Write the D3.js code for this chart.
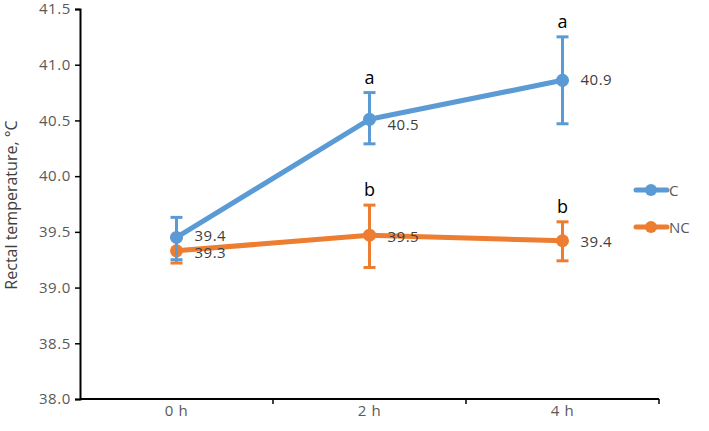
<!DOCTYPE html>
<html>
<head>
<meta charset="utf-8">
<script src="https://cdn.jsdelivr.net/npm/d3@7"></script>
<style>
  body { margin: 0; background: #fff; }
  text { font-family: "Open Sans", "Noto Sans", sans-serif; }
</style>
</head>
<body>
<svg id="chart" width="709" height="431"></svg>
<script>
"use strict";

// categories and series
const hours = ["0 h", "2 h", "4 h"];
const seriesNames = ["C", "NC"];
const cMean = [39.45, 40.51, 40.86];
const cLow = [39.25, 40.29, 40.47];
const cHigh = [39.63, 40.75, 41.25];
const ncMean = [39.33, 39.47, 39.42];
const ncLow = [39.22, 39.18, 39.24];
const ncHigh = [39.45, 39.74, 39.59];
const cLabels = ["39.4", "40.5", "40.9"];
const ncLabels = ["39.3", "39.5", "39.4"];
const cLetters = ["", "a", "a"];
const ncLetters = ["", "b", "b"];
const yTicks = [38.0, 38.5, 39.0, 39.5, 40.0, 40.5, 41.0, 41.5];

const colors = { C: "#5B9BD5", NC: "#ED7D31" };

const svg = d3.select("#chart");
const plotLeft = 80, plotRight = 659, plotTop = 9, plotBottom = 399;

const x = d3.scaleBand().domain(hours).range([plotLeft, plotRight]);
const y = d3.scaleLinear().domain([38, 41.5]).range([plotBottom, plotTop]);

// y axis
const yAxis = svg.append("g").attr("transform", `translate(${plotLeft},0)`)
  .call(d3.axisLeft(y).tickValues(yTicks).tickFormat(d3.format(".1f")).tickSizeOuter(0).tickSize(5));
yAxis.select(".domain").attr("stroke", "#000").attr("stroke-width", 2);
yAxis.selectAll(".tick line").attr("stroke", "#000").attr("stroke-width", 1.5);
yAxis.selectAll(".tick text").attr("fill", "#595959").attr("font-size", 15)
  .attr("letter-spacing", 0.6).attr("x", -9);

// x axis: ticks between categories like Excel
const xAxis = svg.append("g").attr("transform", `translate(0,${plotBottom})`);
xAxis.append("line").attr("x1", plotLeft).attr("x2", plotRight).attr("stroke", "#000").attr("stroke-width", 2);
const bounds = hours.map((h) => x(h) + x.bandwidth());
xAxis.selectAll(".xt").data(bounds).join("line")
  .attr("x1", (d) => d).attr("x2", (d) => d).attr("y1", 0).attr("y2", 5)
  .attr("stroke", "#000").attr("stroke-width", 1.5);
xAxis.selectAll(".xl").data(hours).join("text")
  .attr("x", (d) => x(d) + x.bandwidth() / 2).attr("y", 17)
  .attr("text-anchor", "middle").attr("fill", "#595959").attr("font-size", 15)
  .attr("letter-spacing", 0.6)
  .text((d) => d);

svg.append("text")
  .attr("transform", "translate(17,205) rotate(-90)")
  .attr("text-anchor", "middle").attr("fill", "#404040").attr("font-size", 16)
  .text("Rectal temperature, °C");

const cx = (i) => x(hours[i]) + x.bandwidth() / 2;

function drawSeries(name, mean, low, high) {
  const g = svg.append("g");
  const col = colors[name];
  g.append("path").datum(mean)
    .attr("fill", "none").attr("stroke", col).attr("stroke-width", 5)
    .attr("stroke-linejoin", "round")
    .attr("d", d3.line().x((d, i) => cx(i)).y((d) => y(d)));
  mean.forEach((m, i) => {
    g.append("line").attr("x1", cx(i)).attr("x2", cx(i))
      .attr("y1", y(low[i])).attr("y2", y(high[i]))
      .attr("stroke", col).attr("stroke-width", 3);
    [low[i], high[i]].forEach((v) => {
      g.append("line").attr("x1", cx(i) - 6).attr("x2", cx(i) + 6)
        .attr("y1", y(v)).attr("y2", y(v))
        .attr("stroke", col).attr("stroke-width", 3);
    });
  });
  g.selectAll("circle").data(mean).join("circle")
    .attr("cx", (d, i) => cx(i)).attr("cy", (d) => y(d)).attr("r", 6.5)
    .attr("fill", col);
}

drawSeries("NC", ncMean, ncLow, ncHigh);
drawSeries("C", cMean, cLow, cHigh);

// data labels (the two at 0 h overlap in the source too)
const lbl = svg.append("g").attr("fill", "#404040").attr("font-size", 15).attr("letter-spacing", 0.5);
const cOffset = [4, 11, 5];
const ncOffset = [7, 7, 6];
cLabels.forEach((t, i) => {
  lbl.append("text").attr("x", cx(i) + 18).attr("y", y(cMean[i]) + cOffset[i])
    .text(t);
});
ncLabels.forEach((t, i) => {
  lbl.append("text").attr("x", cx(i) + 18).attr("y", y(ncMean[i]) + ncOffset[i])
    .text(t);
});

// significance letters
const letters = svg.append("g").attr("fill", "#000").attr("font-size", 18).attr("text-anchor", "middle");
cLetters.forEach((t, i) => {
  if (t) letters.append("text").attr("x", cx(i)).attr("y", y(cHigh[i]) - 9).text(t);
});
ncLetters.forEach((t, i) => {
  if (t) letters.append("text").attr("x", cx(i)).attr("y", y(ncHigh[i]) - 9).text(t);
});

// legend
const legend = svg.append("g");
seriesNames.forEach((n, i) => {
  const ly = 190 + i * 37;
  legend.append("line").attr("x1", 636).attr("x2", 667).attr("y1", ly).attr("y2", ly)
    .attr("stroke", colors[n]).attr("stroke-width", 5).attr("stroke-linecap", "round");
  legend.append("circle").attr("cx", 651).attr("cy", ly).attr("r", 6).attr("fill", colors[n]);
  legend.append("text").attr("x", 669).attr("y", ly + 6).attr("fill", "#595959")
    .attr("font-size", 15).text(n);
});
</script>
</body>
</html>
